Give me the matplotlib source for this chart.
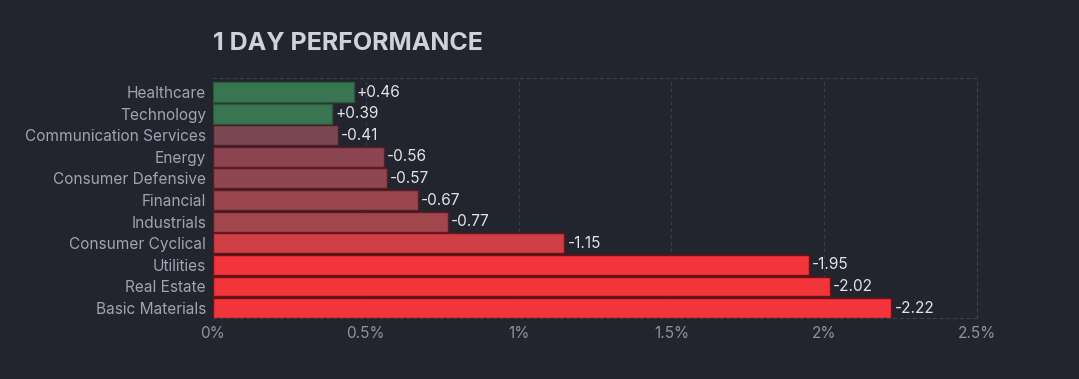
import numpy as np
import matplotlib
matplotlib.use("Agg")
import matplotlib.pyplot as plt

plt.rcParams["font.family"] = ["Inter", "DejaVu Sans"]

sectors = ["Healthcare", "Technology", "Communication Services", "Energy",
           "Consumer Defensive", "Financial", "Industrials", "Consumer Cyclical",
           "Utilities", "Real Estate", "Basic Materials"]
changes = [0.46, 0.39, -0.41, -0.56, -0.57, -0.67, -0.77, -1.15, -1.95, -2.02, -2.22]
bar_colors = ["#3a7552", "#3a7552", "#7a4651", "#8b4550", "#8f4650", "#9a454e",
              "#a2464d", "#cf3f46", "#f2353b", "#f2353b", "#f2353b"]
edge_colors = ["#2a5a3c", "#2a5a3c", "#4a1e26", "#5a1c24", "#5a1c24", "#5a1c24",
               "#5a1c24", "#6a141a", "#7a0c10", "#7a0c10", "#7a0c10"]
xticks = [0, 0.5, 1, 1.5, 2, 2.5]
xticklabels = ["0%", "0.5%", "1%", "1.5%", "2%", "2.5%"]

bg = "#22252e"
fig = plt.figure(figsize=(10.79, 3.79), dpi=100, facecolor=bg)
ax = fig.add_axes([0.1974, 0.161, 0.708, 0.633], facecolor=bg)

y = np.arange(len(sectors))
widths = np.abs(changes)
ax.barh(y, widths, height=0.92, color=bar_colors, edgecolor=edge_colors, linewidth=1.0, zorder=3)

for yi, v, w in zip(y, changes, widths):
    label = f"+{v:.2f}" if v > 0 else f"-{abs(v):.2f}"
    ax.text(w + 0.01, yi, label, va="center", ha="left", color="#e2e3e8",
            fontsize=11.1, zorder=4)

ax.set_ylim(len(sectors) - 0.54, -0.645)
ax.set_xlim(0, 2.5)
ax.set_yticks(y)
ax.set_yticklabels(sectors)
ax.set_xticks(xticks)
ax.set_xticklabels(xticklabels)
ax.tick_params(axis="y", length=0, pad=5, labelsize=11.1, labelcolor="#9fa3b4")
ax.tick_params(axis="x", length=0, pad=6, labelsize=11.1, labelcolor="#8d91a2")

ax.grid(axis="x", color="#3a3e4a", linestyle=(0, (3, 3)), linewidth=0.8, zorder=0)
for side in ["top", "right", "bottom"]:
    ax.spines[side].set_color("#3a3e4a")
    ax.spines[side].set_linestyle((0, (3, 3)))
    ax.spines[side].set_linewidth(0.8)
ax.spines["left"].set_visible(False)

fig.text(0.1974, 0.885, "1 DAY PERFORMANCE", color="#cfd1dc", fontsize=18,
         fontweight="bold", ha="left", va="center")

fig.savefig("out.png", dpi=100, facecolor=bg)
